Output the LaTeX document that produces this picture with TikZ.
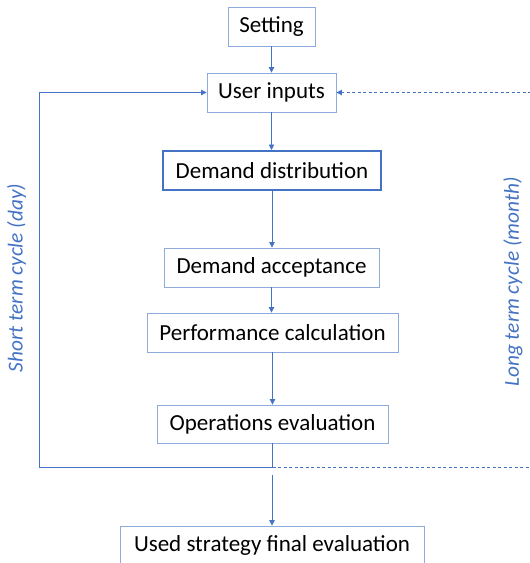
\documentclass[tikz,border=0pt]{standalone}
\usepackage{fontspec}
\setmainfont{Carlito}
\usetikzlibrary{arrows.meta}
\definecolor{lineblue}{HTML}{4472C4}
\definecolor{boxblue}{HTML}{8FAADC}
\begin{document}
\begin{tikzpicture}[x=1pt,y=-1pt,
 box/.style={draw=boxblue, line width=0.9pt, fill=white, inner sep=0pt, minimum height=39pt, font=\fontsize{23}{26}\selectfont, text=black},
 mainbox/.style={box, draw=lineblue, line width=2pt},
 arr/.style={draw=lineblue, line width=0.8pt, -{Triangle[width=5.5pt,length=5.5pt]}},
 ln/.style={draw=lineblue, line width=0.8pt},
 dsh/.style={dash pattern=on 3pt off 2.5pt},
 lbl/.style={text=lineblue, font=\fontsize{21.3}{24}\selectfont\itshape, rotate=90, inner sep=0pt}]
\clip (0,0) rectangle (530,563);
\node[box, minimum width=87pt] (set) at (271.5,26.5) {Setting};
\node[box, minimum width=129pt] (ui) at (271.5,92.5) {User inputs};
\node[mainbox, minimum width=218pt] (dd) at (272,170.5) {Demand distribution};
\node[box, minimum width=215pt] (da) at (271.5,267.5) {Demand acceptance};
\node[box, minimum width=251pt] (pc) at (272.5,332.5) {Performance calculation};
\node[box, minimum width=231pt, minimum height=38pt] (oe) at (272.5,424) {Operations evaluation};
\node[box, minimum width=304pt] (us) at (272,545.5) {Used strategy final evaluation};
\node[lbl] (sl) at (16.5,278) {Short term cycle (day)};
\node[lbl] (ll) at (513,282) {Long term cycle (month)};
\coordinate (jn) at (272,467);
\coordinate (lc) at (39,467);
\coordinate (rb) at (531,467);
\coordinate (rt) at (531,92.5);
\coordinate (st) at (272,475);
\draw[arr] (set) -- (ui);
\draw[arr] (ui.south) -- (ui.south |- dd.north);
\draw[arr] (dd.south) -- (dd.south |- da.north);
\draw[arr] (da.south) -- (da.south |- pc.north);
\draw[arr] (pc.south) -- (pc.south |- oe.north);
\draw[arr] (oe.south |- jn) -- (lc) |- (ui.west);
\draw[ln] (oe.south) -- (oe.south |- jn);
\draw[ln, dsh] (oe.south |- jn) -- (rb);
\draw[arr, dsh] (rt) -- (ui.east);
\draw[arr] (st) -- (us.north);
\end{tikzpicture}
\end{document}
